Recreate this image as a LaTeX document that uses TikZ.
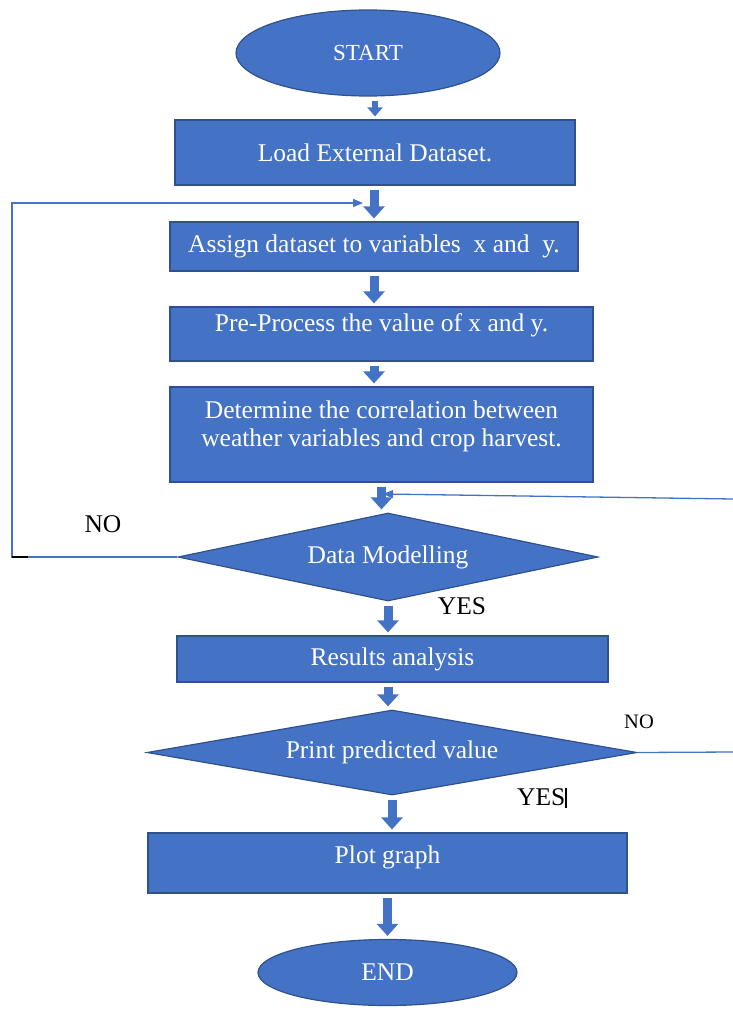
\documentclass[tikz,border=0pt]{standalone}
\usepackage{fontspec}
\setmainfont{Liberation Serif}
\usetikzlibrary{shapes.geometric,arrows.meta}
\definecolor{boxblue}{HTML}{4472C4}
\definecolor{edgeblue}{HTML}{2F528F}
\begin{document}
\begin{tikzpicture}[
        x=1pt, y=-1pt,
        every node/.style={font=\fontsize{25.5}{28}\selectfont},
        process/.style={draw=edgeblue, fill=boxblue, line width=1.2pt, text=white, align=center, inner sep=0pt},
        terminal/.style={process, ellipse},
        decision/.style={process, diamond},
        blockarrow/.style={boxblue, line width=9pt, -{Triangle[width=21pt,length=12pt]}, shorten <=4pt, shorten >=3pt},
        smallarrow/.style={blockarrow, line width=6pt, -{Triangle[width=15pt,length=9pt]}},
        loopline/.style={boxblue, line width=1.3pt},
        looptip/.style={-{Triangle[width=8pt,length=10pt]}},
        answer/.style={text=black, inner sep=0pt},
    ]
    \useasboundingbox (0,0) rectangle (733,1014);
    \node[terminal, minimum width=264pt, minimum height=86pt, font=\fontsize{23}{26}\selectfont](start) at (368,53){START};
    \node[process, minimum width=400pt, minimum height=65pt](load) at (375,152.5){Load External Dataset.};
    \node[process, minimum width=408pt, minimum height=49pt](assign) at (374,246.5){Assign dataset to variables \ x and \ y.};
    \node[process, minimum width=423pt, minimum height=54pt, text depth=23pt](pre) at (381.5,334){Pre-Process the value of x and y.};
    \node[process, minimum width=423pt, minimum height=95pt, text depth=21pt](corr) at (381.5,434.5){Determine the correlation between\\weather variables and crop harvest.};
    \node[decision, aspect=4.77, minimum width=420pt, minimum height=88pt](model) at (388,557){Data Modelling};
    \node[process, minimum width=431pt, minimum height=46pt](results) at (392.5,659){Results analysis};
    \node[decision, aspect=5.76, minimum width=490pt, minimum height=85pt](check) at (392,752.5){Print predicted value};
    \node[process, minimum width=479pt, minimum height=60pt, text depth=17pt](plot) at (387.5,863){Plot graph};
    \node[terminal, minimum width=259pt, minimum height=66pt](stop) at (387.5,972.5){END};

    \draw[smallarrow] (load.north |- start.south) -- (load.north);
    \draw[blockarrow] (assign.north |- load.south) -- (assign.north);
    \draw[blockarrow] (assign.south) -- (assign.south |- pre.north);
    \draw[blockarrow] (pre.south -| assign.south) -- (corr.north -| assign.south);
    \draw[blockarrow] (corr.south) -- (corr.south |- model.north);
    \draw[blockarrow] (model.south) -- (model.south |- results.north);
    \draw[blockarrow] (results.south -| model.south) -- (check.north -| model.south);
    \draw[blockarrow] (check.south) -- (check.south |- plot.north);
    \draw[blockarrow] (plot.south -| stop.north) -- (stop.north);

    \coordinate (noturn) at (12,557);
    \coordinate (reentry) at (363,203);
    \coordinate (retry) at (733,499);
    \coordinate (rejoin) at (383,494);
    \coordinate (noexit) at (733,752);
    \draw[loopline, looptip] (model.west) -- (noturn) |- (reentry);
    \draw[black, line width=2pt] (noturn) -- ++(16,0);
    \draw[loopline, looptip] (retry) -- (rejoin);
    \draw[loopline] (check.east) -- (noexit);

    \node[answer](no1) at (103,524){NO};
    \node[answer](yes1) at (462,606){YES};
    \node[answer, font=\fontsize{20.5}{22}\selectfont](no2) at (639,722){NO};
    \node[answer, anchor=base west](yes2) at (517,805){YES\rule[-3pt]{1.2pt}{20pt}};
\end{tikzpicture}
\end{document}
